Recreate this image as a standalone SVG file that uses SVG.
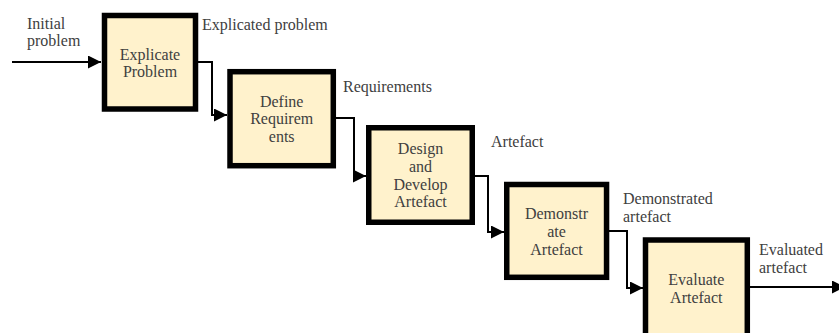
<svg xmlns="http://www.w3.org/2000/svg" width="839" height="333" viewBox="0 0 839 333">
<style>
.box{fill:#FFF2CC;stroke:#000;stroke-width:5.5}
.t{font-family:"Liberation Serif","Times New Roman",serif;font-size:16px;fill:#404040}
.c{text-anchor:middle}
.ln{fill:none;stroke:#000;stroke-width:2}
</style>
<defs>
<marker id="ah" markerUnits="userSpaceOnUse" markerWidth="14" markerHeight="14" refX="13" refY="6.5" orient="auto">
<path d="M0,0 L13,6.5 L0,13 z" fill="#000"/>
</marker>
</defs>
<rect width="839" height="333" fill="#fff"/>
<g id="connectors">
<path class="ln" d="M12,62 H101" marker-end="url(#ah)"/>
<path class="ln" d="M198,62 H212 V115 H227" marker-end="url(#ah)"/>
<path class="ln" d="M336,118 H354 V176 H366" marker-end="url(#ah)"/>
<path class="ln" d="M475,176 H488 V232 H504" marker-end="url(#ah)"/>
<path class="ln" d="M609,231 H627 V288 H643" marker-end="url(#ah)"/>
<path class="ln" d="M750,287 H845" marker-end="url(#ah)"/>
</g>
<g id="labels">
<text class="t" x="27" y="29">Initial</text>
<text class="t" x="27" y="46">problem</text>
<text class="t" x="202" y="30">Explicated problem</text>
<text class="t" x="343" y="92">Requirements</text>
<text class="t" x="491" y="147">Artefact</text>
<text class="t" x="623" y="204">Demonstrated</text>
<text class="t" x="623" y="222">artefact</text>
<text class="t" x="759" y="255">Evaluated</text>
<text class="t" x="759" y="273">artefact</text>
</g>
<g id="n1">
<rect class="box" x="104.5" y="15.5" width="91" height="93.5"/>
<text class="t c" x="150" y="60">Explicate</text>
<text class="t c" x="150" y="77">Problem</text>
</g>
<g id="n2">
<rect class="box" x="230" y="71.7" width="103.3" height="94"/>
<text class="t c" x="281.7" y="106.5">Define</text>
<text class="t c" x="281.7" y="124">Requirem</text>
<text class="t c" x="281.7" y="141.5">ents</text>
</g>
<g id="n3">
<rect class="box" x="368.75" y="127.75" width="103.5" height="94.5"/>
<text class="t c" x="420.5" y="154">Design</text>
<text class="t c" x="420.5" y="171.7">and</text>
<text class="t c" x="420.5" y="189.5">Develop</text>
<text class="t c" x="420.5" y="207.3">Artefact</text>
</g>
<g id="n4">
<rect class="box" x="506.75" y="184.5" width="99.8" height="92.8"/>
<text class="t c" x="556.5" y="219.3">Demonstr</text>
<text class="t c" x="556.5" y="237">ate</text>
<text class="t c" x="556.5" y="255">Artefact</text>
</g>
<g id="n5">
<rect class="box" x="645.5" y="240" width="101.8" height="100"/>
<text class="t c" x="696.3" y="285">Evaluate</text>
<text class="t c" x="696.3" y="302.7">Artefact</text>
</g>
</svg>
